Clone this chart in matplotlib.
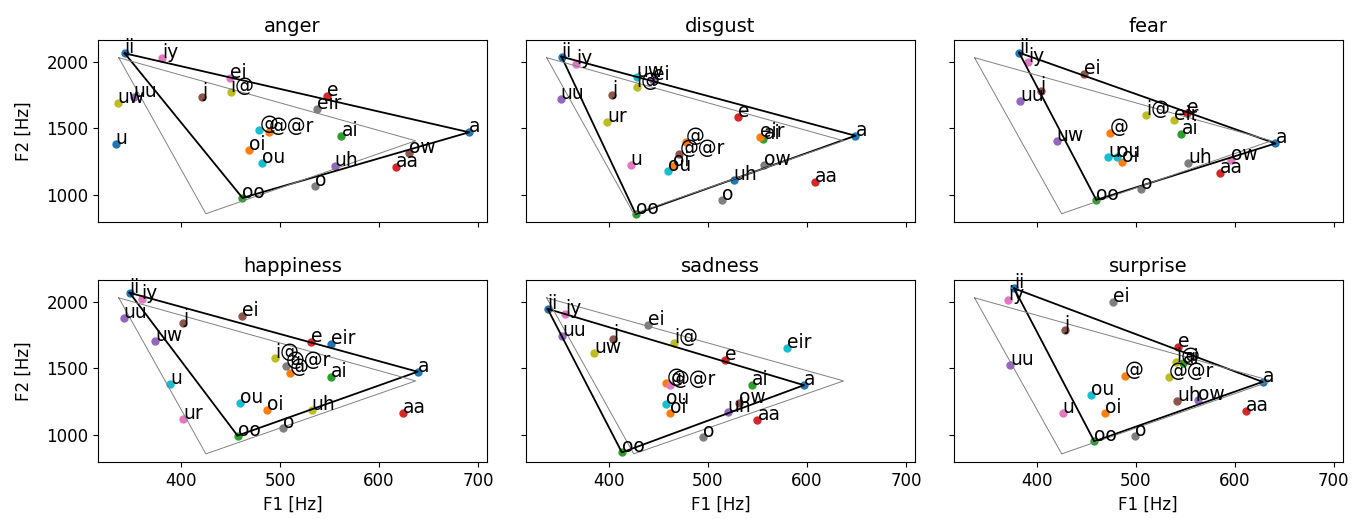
import matplotlib
matplotlib.use("Agg")
from matplotlib import pyplot as plt

# Vowel formants per emotion (order = plotting order, so colours follow the default cycle)
anger_vowels = ["ii", "oi", "ai", "e", "uu", "j", "iy", "eir", "i@", "@", "u",
                "@@r", "oo", "aa", "uh", "ow", "ei", "o", "uw", "ou", "a"]
anger_f1 = [343, 469, 562, 547, 352, 421, 381, 537, 450, 479, 334,
            489, 462, 617, 555, 630, 449, 535, 336, 482, 691]
anger_f2 = [2063, 1336, 1442, 1742, 1735, 1735, 2028, 1646, 1770, 1487, 1379,
            1470, 977, 1207, 1217, 1313, 1874, 1066, 1689, 1237, 1470]

disgust_vowels = ["ii", "oi", "ai", "e", "ei", "j", "iy", "ow", "i@", "uw", "a",
                  "@", "oo", "aa", "uu", "@@r", "u", "o", "ur", "ou", "uh", "eir"]
disgust_f1 = [352, 465, 556, 530, 444, 403, 367, 557, 428, 428, 649,
              478, 427, 608, 351, 471, 422, 514, 398, 460, 526, 553]
disgust_f2 = [2038, 1215, 1422, 1583, 1866, 1748, 1982, 1227, 1811, 1884, 1444,
              1399, 856, 1096, 1717, 1306, 1227, 962, 1548, 1179, 1114, 1437]

fear_vowels = ["ii", "@", "ai", "e", "uu", "ei", "iy", "uh", "i@", "u",
               "a", "oi", "oo", "aa", "uw", "j", "ow", "o", "eir", "ou"]
fear_f1 = [382, 474, 546, 552, 383, 448, 391, 553, 510, 472,
           641, 486, 460, 585, 420, 404, 596, 505, 539, 481]
fear_f2 = [2068, 1462, 1457, 1614, 1702, 1909, 2000, 1240, 1599, 1285,
           1386, 1248, 962, 1164, 1407, 1780, 1260, 1046, 1563, 1285]

happiness_vowels = ["ii", "@", "ai", "e", "uu", "j", "iy", "@@r", "i@", "u", "eir",
                    "oi", "oo", "aa", "uw", "ei", "ur", "o", "uh", "ou", "a"]
happiness_f1 = [348, 510, 551, 531, 342, 402, 360, 506, 495, 389, 551,
                487, 457, 624, 374, 462, 402, 503, 532, 459, 639]
happiness_f2 = [2068, 1462, 1437, 1702, 1876, 1841, 2023, 1520, 1576, 1386, 1682,
                1189, 995, 1164, 1707, 1896, 1121, 1051, 1184, 1243, 1475]

sadness_vowels = ["ii", "@", "ai", "e", "uu", "j", "iy", "ei", "i@", "eir",
                  "a", "oi", "oo", "aa", "uh", "ow", "@@r", "o", "uw", "ou"]
sadness_f1 = [338, 458, 544, 517, 353, 404, 356, 439, 466, 580,
              597, 462, 413, 550, 520, 531, 462, 495, 385, 458]
sadness_f2 = [1947, 1394, 1379, 1563, 1745, 1722, 1909, 1823, 1689, 1652,
              1374, 1167, 869, 1109, 1172, 1240, 1374, 982, 1619, 1235]

surprise_vowels = ["ii", "@", "ai", "e", "uu", "j", "iy", "ei", "i@", "ou",
                   "a", "oi", "oo", "aa", "ow", "uh", "u", "o", "@@r"]
surprise_f1 = [377, 489, 548, 543, 373, 428, 371, 477, 541, 455,
               628, 469, 458, 611, 563, 542, 426, 499, 533]
surprise_f2 = [2101, 1442, 1538, 1657, 1525, 1788, 2013, 1995, 1551, 1298,
               1399, 1164, 952, 1177, 1260, 1255, 1164, 990, 1432]

# Neutral reference vowel triangle (drawn in grey on every panel)
ref_f1 = [337, 637, 425]
ref_f2 = [2030, 1406, 858]

emotions = ["anger", "disgust", "fear", "happiness", "sadness", "surprise"]
data = {
    "anger": (anger_vowels, anger_f1, anger_f2),
    "disgust": (disgust_vowels, disgust_f1, disgust_f2),
    "fear": (fear_vowels, fear_f1, fear_f2),
    "happiness": (happiness_vowels, happiness_f1, happiness_f2),
    "sadness": (sadness_vowels, sadness_f1, sadness_f2),
    "surprise": (surprise_vowels, surprise_f1, surprise_f2),
}

plt.rcParams["font.size"] = 12

fig, axes = plt.subplots(2, 3, figsize=(13.63, 5.19), dpi=100, sharex=True, sharey=True)
fig.subplots_adjust(left=0.072, right=0.985, bottom=0.109, top=0.923, wspace=0.101, hspace=0.317)

for ax, emo in zip(axes.flat, emotions):
    vowels, f1, f2 = data[emo]

    #One dot + label per vowel, colours cycle like the default prop cycle
    for i, (v, x, y) in enumerate(zip(vowels, f1, f2)):
        ax.scatter(x, y, s=25, color="C%d" % (i % 10))
        ax.text(x, y, v, fontsize=13.5)

    #Corner vowels of this emotion: ii - a - oo
    corners = [vowels.index(c) for c in ["ii", "a", "oo", "ii"]]
    ax.plot([f1[k] for k in corners], [f2[k] for k in corners], color="black", lw=1.3)

    #Reference triangle
    ax.plot(ref_f1 + ref_f1[:1], ref_f2 + ref_f2[:1], color="grey", lw=0.7)

    ax.set_title(emo, fontsize=14)

for ax in axes[1]:
    ax.set_xlabel("F1 [Hz]")
for ax in axes[:, 0]:
    ax.set_ylabel("F2 [Hz]", labelpad=10)

ax.set_xticks([400, 500, 600, 700])
ax.set_yticks([1000, 1500, 2000])

plt.savefig("out.png", dpi=100)
